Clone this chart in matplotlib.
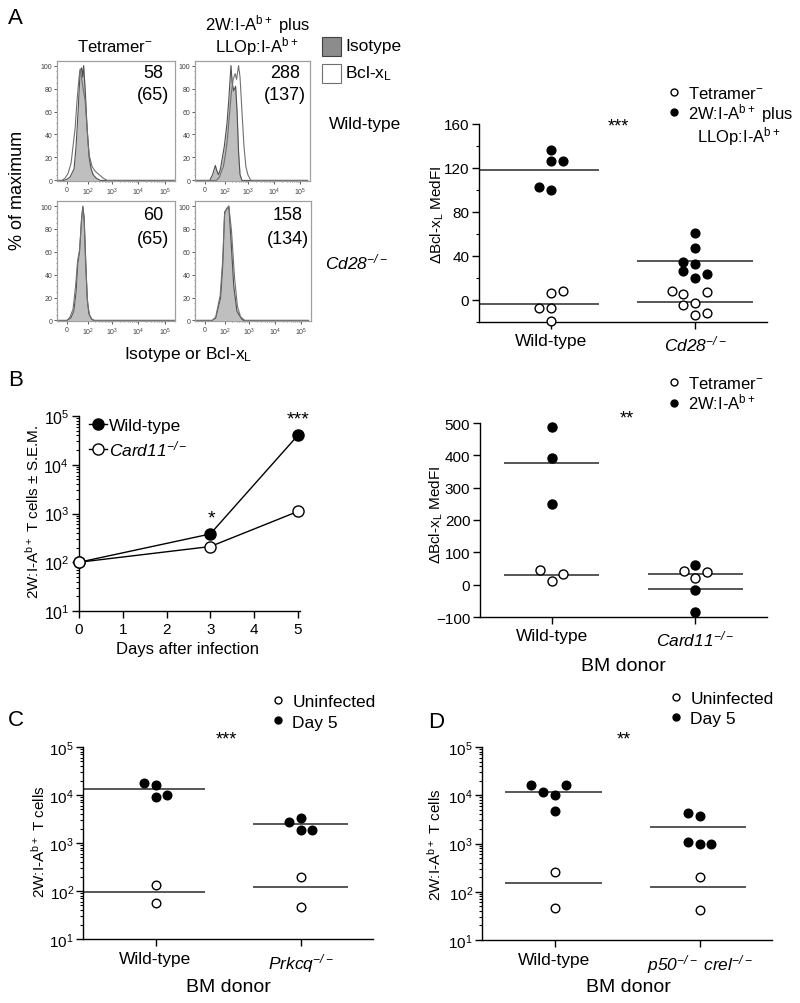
import numpy as np
import matplotlib
matplotlib.use('Agg')
import matplotlib.pyplot as plt
from matplotlib import rcParams
from matplotlib.lines import Line2D
from matplotlib.patches import Rectangle
from matplotlib.ticker import MultipleLocator, LogLocator, NullFormatter, FixedLocator

rcParams.update({'font.family': 'Liberation Sans',
                 'mathtext.fontset': 'custom',
                 'mathtext.rm': 'Liberation Sans',
                 'mathtext.it': 'Liberation Sans:italic',
                 'mathtext.sf': 'Liberation Sans:italic',
                 'mathtext.bf': 'Liberation Sans:bold',
                 'axes.linewidth': 1.0})

W, H = 800, 1004

# ---- panel A : histograms (channel position, % of maximum) ----
HIST_TICKS = [0, 0.83, 1.78, 2.84, 3.9]
HIST_TICKLABELS = ['0', '$10^2$', '$10^3$', '$10^4$', '$10^5$']

wt_neg_iso_x = [-0.4, -0.12, 0, 0.12, 0.28, 0.36, 0.44, 0.52, 0.58, 0.62, 0.66, 0.72, 0.8, 0.88, 0.96, 1.04, 1.16, 1.32, 4.3]
wt_neg_iso_y = [0, 0, 1, 3, 10, 30, 60, 95, 98, 90, 100, 80, 45, 20, 10, 5, 2, 0, 0]
wt_neg_bcl_x = [-0.4, -0.2, -0.08, 0.04, 0.16, 0.24, 0.32, 0.4, 0.48, 0.52, 0.56, 0.64, 0.72, 0.8, 0.88, 1.0, 1.12, 1.28, 1.44, 1.6, 4.3]
wt_neg_bcl_y = [0, 0, 2, 6, 15, 30, 45, 70, 90, 97, 92, 80, 70, 45, 22, 12, 8, 5, 2, 0, 0]

wt_pos_iso_x = [-0.4, 0.2, 0.32, 0.43, 0.5, 0.56, 0.64, 0.72, 0.8, 0.91, 0.98, 1.07, 1.12, 1.18, 1.26, 1.32, 1.38, 1.44, 1.52, 4.2]
wt_pos_iso_y = [0, 0, 5, 13, 8, 5, 10, 20, 30, 50, 70, 100, 85, 78, 82, 60, 25, 5, 0, 0]
wt_pos_bcl_x = [-0.4, 0.48, 0.6, 0.68, 0.76, 0.84, 0.92, 1.0, 1.08, 1.16, 1.24, 1.3, 1.38, 1.44, 1.52, 1.6, 1.68, 1.76, 1.88, 4.2]
wt_pos_bcl_y = [0, 0, 3, 8, 12, 22, 35, 55, 75, 88, 93, 88, 100, 90, 60, 30, 12, 5, 0, 0]

cd28_neg_iso_x = [-0.4, 0, 0.15, 0.27, 0.36, 0.43, 0.5, 0.58, 0.63, 0.68, 0.74, 0.8, 0.87, 0.98, 1.07, 4.3]
cd28_neg_iso_y = [0, 0, 2, 8, 25, 50, 60, 90, 100, 90, 55, 20, 6, 1, 0, 0]
cd28_neg_bcl_x = [-0.4, 0, 0.12, 0.24, 0.34, 0.42, 0.5, 0.58, 0.63, 0.68, 0.74, 0.82, 0.9, 1.0, 1.1, 4.3]
cd28_neg_bcl_y = [0, 0, 3, 10, 30, 52, 62, 88, 99, 88, 50, 15, 4, 1, 0, 0]

cd28_pos_iso_x = [-0.4, 0.3, 0.44, 0.64, 0.73, 0.8, 0.88, 0.97, 1.06, 1.17, 1.3, 1.5, 1.57, 4.2]
cd28_pos_iso_y = [0, 0, 2, 20, 50, 95, 97, 100, 70, 30, 8, 1, 0, 0]
cd28_pos_bcl_x = [-0.4, 0.3, 0.44, 0.62, 0.72, 0.8, 0.88, 0.97, 1.08, 1.2, 1.32, 1.45, 1.62, 4.2]
cd28_pos_bcl_y = [0, 0, 3, 22, 52, 93, 98, 100, 78, 38, 12, 3, 0, 0]

hist_medfi = [('58', '(65)'), ('288', '(137)'), ('60', '(65)'), ('158', '(134)')]

# ---- panel A : dBcl-xL MedFI ----
a_cats = ['Wild-type', '$\\mathsf{Cd28}^{\\mathsf{-/-}}$']
a_wt_neg = [6.4, 8.5, -7, -7, -19.5]
a_wt_neg_dx = [0, 0.08, -0.08, 0, 0]
a_wt_pos = [136, 126, 126, 103, 100]
a_wt_pos_dx = [0, 0, 0.08, -0.08, 0]
a_cd28_neg = [8, 5.5, 7, -4.5, -3, -14, -12]
a_cd28_neg_dx = [-0.16, -0.08, 0.08, -0.08, 0, 0, 0.08]
a_cd28_pos = [61, 47, 35, 33, 26, 24, 20]
a_cd28_pos_dx = [0, 0, -0.08, 0, -0.08, 0.08, 0]

# ---- panel B : time course ----
b_days = [0, 3, 5]
b_wt = [100, 380, 40000]
b_wt_sem = [0, 40, 6000]
b_card11 = [100, 210, 1100]
b_card11_sem = [0, 25, 150]

# ---- panel B : dBcl-xL MedFI ----
b_cats = ['Wild-type', '$\\mathsf{Card11}^{\\mathsf{-/-}}$']
b_wt_neg = [44, 11, 34]
b_wt_neg_dx = [-0.08, 0, 0.08]
b_wt_pos = [488, 393, 250]
b_wt_pos_dx = [0, 0, 0]
b_card11_neg = [41, 21, 39]
b_card11_neg_dx = [-0.08, 0, 0.08]
b_card11_pos = [62, -18, -85]
b_card11_pos_dx = [0, 0, 0]

# ---- panel C ----
c_cats = ['Wild-type', '$\\mathsf{Prkcq}^{\\mathsf{-/-}}$']
c_wt_uninf = [135, 55]
c_wt_uninf_dx = [0, 0]
c_wt_d5 = [18000, 16000, 9000, 9800]
c_wt_d5_dx = [-0.08, 0, 0, 0.08]
c_ko_uninf = [198, 47]
c_ko_uninf_dx = [0, 0]
c_ko_d5 = [2750, 3300, 1830, 1900]
c_ko_d5_dx = [-0.08, 0, 0, 0.08]

# ---- panel D ----
d_cats = ['Wild-type', '$\\mathsf{p50}^{\\mathsf{-/-}}\\ \\mathsf{crel}^{\\mathsf{-/-}}$']
d_wt_uninf = [260, 46]
d_wt_uninf_dx = [0, 0]
d_wt_d5 = [16000, 11800, 10000, 16000, 4700]
d_wt_d5_dx = [-0.16, -0.08, 0, 0.08, 0]
d_ko_uninf = [205, 41]
d_ko_uninf_dx = [0, 0]
d_ko_d5 = [4300, 3650, 1050, 980, 980]
d_ko_d5_dx = [-0.08, 0, -0.08, 0, 0.08]


FIG = plt.figure(figsize=(8, 10.04), dpi=100)


def px_axes(l, t, r, b):
    return FIG.add_axes([l / W, 1 - b / H, (r - l) / W, (b - t) / H])


def px_text(x, y, s, **kw):
    return FIG.text(x / W, 1 - y / H, s, **kw)


def ylabel_px(ax, s, x, y, size):
    ax.set_ylabel(s, fontsize=size, va='center', ha='center')
    ax.yaxis.set_label_coords(x / W, 1 - y / H, transform=FIG.transFigure)


def xlabel_px(ax, s, x, y, size):
    ax.set_xlabel(s, fontsize=size, va='center', ha='center')
    ax.xaxis.set_label_coords(x / W, 1 - y / H, transform=FIG.transFigure)


def draw_hist(box, iso_x, iso_y, bcl_x, bcl_y, nums, numx, numy, ylim):
    ax = px_axes(*box)
    ax.fill_between(iso_x, iso_y, color='#bfbfbf', lw=0)
    ax.plot(iso_x, iso_y, color='#505050', lw=0.8)
    ax.plot(bcl_x, bcl_y, color='#707070', lw=0.8)
    ax.set_xlim(-0.4, 4.3)
    ax.set_ylim(*ylim)
    ax.set_xticks(HIST_TICKS)
    ax.set_xticklabels(HIST_TICKLABELS)
    minor = []
    for k in range(1, 4):
        a, b = HIST_TICKS[k], HIST_TICKS[k + 1]
        minor += [a + np.log10(m) * (b - a) for m in range(2, 10)]
    ax.xaxis.set_minor_locator(FixedLocator(minor))
    ax.set_yticks([0, 20, 40, 60, 80, 100])
    ax.yaxis.set_minor_locator(MultipleLocator(5))
    ax.tick_params(labelsize=5, length=2, width=0.6, pad=1.5, colors='#404040')
    ax.tick_params(which='minor', length=1, width=0.5, colors='#606060')
    for sp in ax.spines.values():
        sp.set_color('#a0a0a0')
        sp.set_linewidth(0.9)
    px_text(numx, numy, nums[0], fontsize=13, ha='center', va='center')
    px_text(numx, numy + 23, nums[1], fontsize=13, ha='center', va='center')
    return ax


def dots(ax, xc, vals, dx, filled, ms):
    xs = [xc + d for d in dx]
    ax.plot(xs, vals, ls='none', marker='o', ms=ms, mec='black', mew=1.0,
            mfc='black' if filled else 'white', zorder=3, clip_on=False)


def mean_line(ax, vals, x0, x1):
    ax.plot([x0, x1], [np.mean(vals)] * 2, color='#3a3a3a', lw=1.2, zorder=2,
            solid_capstyle='butt', clip_on=False)


def style_dot_axes(ax, cats, xlab_pad=3, ysize=11):
    ax.set_xlim(-0.5, 1.5)
    ax.set_xticks([0, 1])
    ax.set_xticklabels(cats, fontsize=12.5)
    for sp in ('top', 'right'):
        ax.spines[sp].set_visible(False)
    ax.tick_params(axis='y', labelsize=ysize, length=5, width=1, pad=2)
    ax.tick_params(axis='x', length=5, width=1, pad=xlab_pad)
    ax.tick_params(which='minor', length=2.5, width=0.8)


def dot_legend(ax, labels, x, y, size=12.5, spacing=0.1):
    hs = [Line2D([], [], ls='none', marker='o', ms=5, mfc='white', mec='black', mew=1),
          Line2D([], [], ls='none', marker='o', ms=5, mfc='black', mec='black', mew=1)]
    while len(hs) < len(labels):
        hs.append(Line2D([], [], ls='none'))
    ax.legend(hs, labels, loc='upper left', bbox_to_anchor=(x / W, 1 - y / H),
              bbox_transform=FIG.transFigure, frameon=False, borderpad=0,
              borderaxespad=0, handlelength=1.0, handletextpad=0.35,
              labelspacing=spacing, fontsize=size)


# ================= Panel A =================
px_text(8, 18, 'A', fontsize=16, ha='left', va='center')
draw_hist((57, 62, 175, 182), wt_neg_iso_x, wt_neg_iso_y, wt_neg_bcl_x, wt_neg_bcl_y,
          hist_medfi[0], 153, 73, (-0.5, 104))
draw_hist((195, 62, 310, 182), wt_pos_iso_x, wt_pos_iso_y, wt_pos_bcl_x, wt_pos_bcl_y,
          hist_medfi[1], 285, 73, (-0.5, 104))
draw_hist((57, 202, 175, 322), cd28_neg_iso_x, cd28_neg_iso_y, cd28_neg_bcl_x, cd28_neg_bcl_y,
          hist_medfi[2], 153, 216, (-0.5, 104.5))
draw_hist((195, 202, 311, 322), cd28_pos_iso_x, cd28_pos_iso_y, cd28_pos_bcl_x, cd28_pos_bcl_y,
          hist_medfi[3], 288, 216, (-0.5, 104.5))

px_text(115, 47, 'Tetramer$^{-}$', fontsize=12, ha='center', va='center')
px_text(257, 25, '2W:I-A$^{\\mathrm{b+}}$ plus', fontsize=12, ha='center', va='center')
px_text(257, 47, 'LLOp:I-A$^{\\mathrm{b+}}$', fontsize=12, ha='center', va='center')
px_text(329, 125, 'Wild-type', fontsize=12.5, ha='left', va='center')
px_text(325, 262, '$\\mathsf{Cd28}^{\\mathsf{-/-}}$', fontsize=12.5, ha='left', va='center')
px_text(18, 190, '% of maximum', fontsize=13, ha='center', va='center', rotation=90)
px_text(188, 354, 'Isotype or Bcl-x$_\\mathrm{L}$', fontsize=12.5, ha='center', va='center')

FIG.add_artist(Rectangle((322 / W, 1 - 57 / H), 19 / W, 19 / H, transform=FIG.transFigure,
                         fc='#8c8c8c', ec='#404040', lw=0.8))
FIG.add_artist(Rectangle((322 / W, 1 - 84 / H), 19 / W, 19 / H, transform=FIG.transFigure,
                         fc='white', ec='#707070', lw=0.8))
px_text(345, 47, 'Isotype', fontsize=12.5, ha='left', va='center')
px_text(345, 74, 'Bcl-x$_\\mathrm{L}$', fontsize=12.5, ha='left', va='center')

ax = px_axes(479, 125, 767, 323)
mean_line(ax, a_wt_pos, -0.5, 0.33)
mean_line(ax, a_wt_neg, -0.5, 0.33)
mean_line(ax, a_cd28_pos, 0.6, 1.4)
mean_line(ax, a_cd28_neg, 0.6, 1.4)
dots(ax, 0, a_wt_pos, a_wt_pos_dx, True, 6.3)
dots(ax, 0, a_wt_neg, a_wt_neg_dx, False, 6.3)
dots(ax, 1, a_cd28_pos, a_cd28_pos_dx, True, 6.3)
dots(ax, 1, a_cd28_neg, a_cd28_neg_dx, False, 6.3)
ax.set_ylim(-20, 160)
ax.set_yticks([0, 40, 80, 120, 160])
ax.yaxis.set_minor_locator(MultipleLocator(20))
style_dot_axes(ax, a_cats)
ylabel_px(ax, '\u0394Bcl-x$_\\mathrm{L}$ MedFI', 437, 215, 11)
px_text(618, 127, '***', fontsize=13, ha='center', va='center')
dot_legend(ax, ['Tetramer$^{-}$', '2W:I-A$^{\\mathrm{b+}}$ plus', '  LLOp:I-A$^{\\mathrm{b+}}$'],
           666, 86, size=12, spacing=0.0)

# ================= Panel B =================
px_text(8, 380, 'B', fontsize=16, ha='left', va='center')
ax = px_axes(79, 417, 300, 612)
ax.errorbar(b_days, b_wt, yerr=b_wt_sem, color='black', lw=1, marker='o', ms=8,
            mfc='black', mec='black', capsize=3, clip_on=False, zorder=3, label='Wild-type')
ax.errorbar(b_days, b_card11, yerr=b_card11_sem, color='black', lw=1, marker='o', ms=8,
            mfc='white', mec='black', capsize=3, clip_on=False, zorder=4,
            label='$\\mathsf{Card11}^{\\mathsf{-/-}}$')
ax.set_yscale('log')
ax.set_ylim(10, 1e5)
ax.set_xlim(0, 5.05)
ax.set_xticks([0, 1, 2, 3, 4, 5])
ax.yaxis.set_minor_locator(LogLocator(base=10, subs=np.arange(2, 10)))
ax.yaxis.set_minor_formatter(NullFormatter())
for sp in ('top', 'right'):
    ax.spines[sp].set_visible(False)
ax.tick_params(axis='y', labelsize=11.5, length=5, width=1, pad=2)
ax.tick_params(axis='x', labelsize=11, length=5, width=1, pad=3)
ax.tick_params(which='minor', length=2.5, width=0.8)
ylabel_px(ax, '2W:I-A$^{\\mathrm{b+}}$ T cells \u00b1 S.E.M.', 33, 512, 11)
xlabel_px(ax, 'Days after infection', 188, 650, 12)
handles, labels = ax.get_legend_handles_labels()
ax.legend([h[0] for h in handles], labels, loc='upper left', bbox_to_anchor=(89 / W, 1 - 419 / H),
          bbox_transform=FIG.transFigure, frameon=False, borderpad=0, borderaxespad=0,
          handlelength=1.05, handletextpad=0.1, labelspacing=0.3, fontsize=12.5)
px_text(211, 519, '*', fontsize=14, ha='center', va='center')
px_text(298, 420, '***', fontsize=14, ha='center', va='center')

ax = px_axes(480, 424, 767, 618)
mean_line(ax, b_wt_pos, -0.33, 0.33)
mean_line(ax, b_wt_neg, -0.33, 0.33)
mean_line(ax, b_card11_pos, 0.67, 1.33)
mean_line(ax, b_card11_neg, 0.67, 1.33)
dots(ax, 0, b_wt_pos, b_wt_pos_dx, True, 6.5)
dots(ax, 0, b_wt_neg, b_wt_neg_dx, False, 6.5)
dots(ax, 1, b_card11_neg, b_card11_neg_dx, False, 6.5)
dots(ax, 1, b_card11_pos, b_card11_pos_dx, True, 6.5)
ax.set_ylim(-100, 500)
ax.set_yticks([-100, 0, 100, 200, 300, 400, 500])
style_dot_axes(ax, b_cats)
ylabel_px(ax, '\u0394Bcl-x$_\\mathrm{L}$ MedFI', 436, 515, 11)
xlabel_px(ax, 'BM donor', 623, 667, 14)
px_text(627, 419, '**', fontsize=13, ha='center', va='center')
dot_legend(ax, ['Tetramer$^{-}$', '2W:I-A$^{\\mathrm{b+}}$'], 666, 376, size=12, spacing=0.05)


def log_dot_axes(ax):
    ax.set_yscale('log')
    ax.set_ylim(10, 1e5)
    ax.yaxis.set_minor_locator(LogLocator(base=10, subs=np.arange(2, 10)))
    ax.yaxis.set_minor_formatter(NullFormatter())


# ================= Panel C =================
px_text(8, 720, 'C', fontsize=16, ha='left', va='center')
ax = px_axes(83, 748, 373, 940)
log_dot_axes(ax)
mean_line(ax, c_wt_d5, -0.5, 0.34)
mean_line(ax, c_wt_uninf, -0.5, 0.34)
mean_line(ax, c_ko_d5, 0.67, 1.33)
mean_line(ax, c_ko_uninf, 0.67, 1.33)
dots(ax, 0, c_wt_d5, c_wt_d5_dx, True, 6.2)
dots(ax, 0, c_wt_uninf, c_wt_uninf_dx, False, 6.2)
dots(ax, 1, c_ko_d5, c_ko_d5_dx, True, 6.2)
dots(ax, 1, c_ko_uninf, c_ko_uninf_dx, False, 6.2)
style_dot_axes(ax, c_cats, xlab_pad=4, ysize=11)
ax.tick_params(axis='y', pad=1.5)
ylabel_px(ax, '2W:I-A$^{\\mathrm{b+}}$ T cells', 39, 842, 11)
xlabel_px(ax, 'BM donor', 228, 988, 14)
px_text(226, 740, '***', fontsize=13, ha='center', va='center')
dot_legend(ax, ['Uninfected', 'Day 5'], 269, 695, size=12.5, spacing=0.3)

# ================= Panel D =================
px_text(428, 723, 'D', fontsize=16, ha='left', va='center')
ax = px_axes(482, 748, 772, 941)
log_dot_axes(ax)
mean_line(ax, d_wt_d5, -0.34, 0.33)
mean_line(ax, d_wt_uninf, -0.34, 0.33)
mean_line(ax, d_ko_d5, 0.66, 1.32)
mean_line(ax, d_ko_uninf, 0.66, 1.32)
dots(ax, 0, d_wt_d5, d_wt_d5_dx, True, 6.2)
dots(ax, 0, d_wt_uninf, d_wt_uninf_dx, False, 6.2)
dots(ax, 1, d_ko_d5, d_ko_d5_dx, True, 6.2)
dots(ax, 1, d_ko_uninf, d_ko_uninf_dx, False, 6.2)
style_dot_axes(ax, d_cats, xlab_pad=4, ysize=11)
ax.tick_params(axis='y', pad=1.5)
ylabel_px(ax, '2W:I-A$^{\\mathrm{b+}}$ T cells', 435, 845, 11)
xlabel_px(ax, 'BM donor', 628, 988, 14)
px_text(624, 740, '**', fontsize=13, ha='center', va='center')
dot_legend(ax, ['Uninfected', 'Day 5'], 667, 692, size=12.5, spacing=0.25)

FIG.savefig('out.png', dpi=100)
